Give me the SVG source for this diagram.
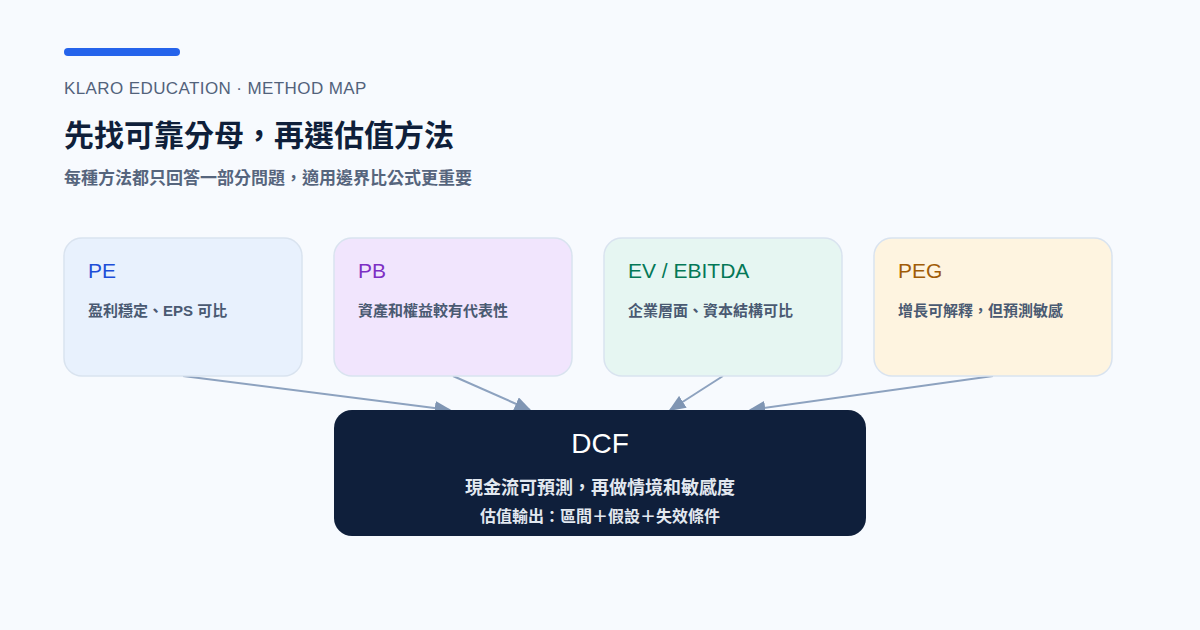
<svg xmlns="http://www.w3.org/2000/svg" width="1200" height="630" viewBox="0 0 1200 630">
<defs>
<style>
text{font-family:"Liberation Sans","Noto Sans CJK TC",sans-serif}
.card{stroke:#d9e3ef;stroke-width:1.5}
.ct{font-size:21px}
.cd{font-size:15px;font-weight:600;fill:#4a5a72}
.edge{stroke:#8da2bf;stroke-width:2;fill:none;marker-end:url(#arr)}
</style>
<marker id="arr" viewBox="0 0 10 10" refX="9" refY="5" markerWidth="17" markerHeight="14" preserveAspectRatio="none" markerUnits="userSpaceOnUse" orient="auto">
<path d="M0,0 L10,5 L0,10 z" fill="#7f95b3"/>
</marker>
</defs>
<rect width="1200" height="630" fill="#f7fafe"/>
<g id="header">
<rect x="64" y="48" width="116" height="8" rx="4" fill="#2563eb"/>
<text x="64" y="94" font-size="17" letter-spacing="0.4" fill="#52627b">KLARO EDUCATION · METHOD MAP</text>
<text x="64" y="146" font-size="30" font-weight="700" fill="#0f1f3a">先找可靠分母，再選估值方法</text>
<text x="64" y="184" font-size="17" font-weight="600" fill="#56657d">每種方法都只回答一部分問題，適用邊界比公式更重要</text>
</g>
<g id="connectors">
<line class="edge" x1="183" y1="376" x2="450" y2="410"/>
<line class="edge" x1="453" y1="376" x2="530" y2="410"/>
<line class="edge" x1="723" y1="376" x2="670" y2="410"/>
<line class="edge" x1="993" y1="376" x2="750" y2="410"/>
</g>
<g id="pe">
<rect class="card" x="64" y="238" width="238" height="138" rx="18" fill="#e8f1fd"/>
<text class="ct" x="88" y="278" fill="#1d4ed8">PE</text>
<text class="cd" x="88" y="316">盈利穩定、EPS 可比</text>
</g>
<g id="pb">
<rect class="card" x="334" y="238" width="238" height="138" rx="18" fill="#f1e5fd"/>
<text class="ct" x="358" y="278" fill="#7e2fc4">PB</text>
<text class="cd" x="358" y="316">資產和權益較有代表性</text>
</g>
<g id="ev">
<rect class="card" x="604" y="238" width="238" height="138" rx="18" fill="#e6f6f2"/>
<text class="ct" x="628" y="278" fill="#047857">EV / EBITDA</text>
<text class="cd" x="628" y="316">企業層面、資本結構可比</text>
</g>
<g id="peg">
<rect class="card" x="874" y="238" width="238" height="138" rx="18" fill="#fef4e0"/>
<text class="ct" x="898" y="278" fill="#a15c07">PEG</text>
<text class="cd" x="898" y="316">增長可解釋，但預測敏感</text>
</g>
<g id="dcf">
<rect x="334" y="410" width="532" height="126" rx="18" fill="#0f1f3b"/>
<text x="600" y="453" font-size="28" fill="#ffffff" text-anchor="middle">DCF</text>
<text x="600" y="494" font-size="18" font-weight="600" fill="#e2e8f0" text-anchor="middle">現金流可預測，再做情境和敏感度</text>
<text x="600" y="522" font-size="16" font-weight="600" fill="#e2e8f0" text-anchor="middle">估值輸出：區間＋假設＋失效條件</text>
</g>
</svg>
